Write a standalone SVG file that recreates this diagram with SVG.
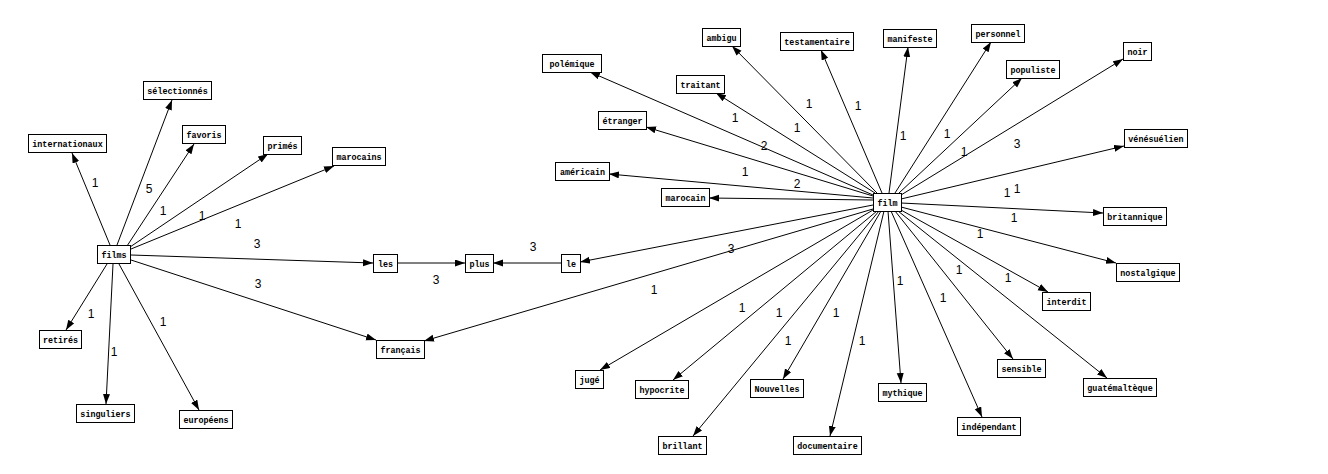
<svg xmlns="http://www.w3.org/2000/svg" width="1328" height="474" viewBox="0 0 1328 474">
<style>
.n rect{fill:#fff;stroke:#000;stroke-width:1;shape-rendering:crispEdges}
.n text{font-family:"Liberation Mono",monospace;font-weight:bold;font-size:8.4px;fill:#000;text-anchor:middle}
.e line{stroke:#000;stroke-width:1;marker-end:url(#ah)}
.lbl text{font-family:"Liberation Sans",Arial,sans-serif;font-size:12px;fill:#000;text-anchor:middle}
</style>
<defs>
<marker id="ah" markerUnits="userSpaceOnUse" markerWidth="11" markerHeight="8" refX="10" refY="3.5" orient="auto">
<path d="M0,0 L10,3.5 L0,7 z" fill="#000"/>
</marker>
</defs>
<rect width="1328" height="474" fill="#fff"/>
<g id="connectors" class="e">
<line x1="110" y1="245" x2="72" y2="153"/>
<line x1="117" y1="245" x2="172" y2="100"/>
<line x1="127" y1="246" x2="194" y2="144"/>
<line x1="130" y1="247" x2="268" y2="154"/>
<line x1="131" y1="249" x2="334" y2="166"/>
<line x1="131" y1="255" x2="373" y2="263"/>
<line x1="131" y1="260" x2="376" y2="340"/>
<line x1="107" y1="264" x2="66" y2="330"/>
<line x1="113" y1="264" x2="106" y2="404"/>
<line x1="119" y1="264" x2="199" y2="410"/>
<line x1="397" y1="263" x2="465" y2="263"/>
<line x1="561" y1="263" x2="493" y2="263"/>
<line x1="873" y1="205" x2="580" y2="262"/>
<line x1="873" y1="209" x2="424" y2="341"/>
<line x1="877" y1="193" x2="732" y2="46"/>
<line x1="882" y1="193" x2="821" y2="50"/>
<line x1="889" y1="193" x2="908" y2="47"/>
<line x1="895" y1="193" x2="991" y2="42"/>
<line x1="899" y1="193" x2="1022" y2="78"/>
<line x1="901" y1="195" x2="1123" y2="59"/>
<line x1="901" y1="199" x2="1124" y2="146"/>
<line x1="901" y1="203" x2="1103" y2="213"/>
<line x1="901" y1="207" x2="1116" y2="263"/>
<line x1="901" y1="210" x2="1048" y2="292"/>
<line x1="898" y1="211" x2="1107" y2="378"/>
<line x1="895" y1="211" x2="1013" y2="359"/>
<line x1="891" y1="211" x2="982" y2="417"/>
<line x1="888" y1="211" x2="901" y2="383"/>
<line x1="884" y1="211" x2="830" y2="436"/>
<line x1="881" y1="211" x2="783" y2="379"/>
<line x1="879" y1="211" x2="693" y2="436"/>
<line x1="877" y1="211" x2="673" y2="380"/>
<line x1="873" y1="210" x2="600" y2="370"/>
<line x1="873" y1="200" x2="709" y2="198"/>
<line x1="873" y1="198" x2="609" y2="174"/>
<line x1="873" y1="196" x2="646" y2="127"/>
<line x1="873" y1="195" x2="590" y2="72"/>
<line x1="875" y1="193" x2="716" y2="93"/>
</g>
<g id="edge-labels" class="lbl">
<text x="95" y="187">1</text>
<text x="149" y="193">5</text>
<text x="163" y="215">1</text>
<text x="202" y="220">1</text>
<text x="238" y="228">1</text>
<text x="257" y="248">3</text>
<text x="258" y="288">3</text>
<text x="436" y="284">3</text>
<text x="533" y="251">3</text>
<text x="91" y="318">1</text>
<text x="114" y="356">1</text>
<text x="163" y="326">1</text>
<text x="809" y="108">1</text>
<text x="858" y="110">1</text>
<text x="735" y="122">1</text>
<text x="797" y="132">1</text>
<text x="764" y="150">2</text>
<text x="745" y="176">1</text>
<text x="797" y="188">2</text>
<text x="903" y="140">1</text>
<text x="947" y="138">1</text>
<text x="964" y="156">1</text>
<text x="1017" y="148">3</text>
<text x="1007" y="197">1</text>
<text x="1017" y="193">1</text>
<text x="1014" y="222">1</text>
<text x="980" y="238">1</text>
<text x="959" y="274">1</text>
<text x="1008" y="282">1</text>
<text x="900" y="285">1</text>
<text x="943" y="302">1</text>
<text x="731" y="253">3</text>
<text x="654" y="294">1</text>
<text x="742" y="312">1</text>
<text x="779" y="317">1</text>
<text x="836" y="317">1</text>
<text x="788" y="345">1</text>
<text x="862" y="345">1</text>
</g>
<g id="films" class="n"><rect x="97.5" y="245.5" width="33" height="18"/><text x="114" y="257.5">films</text></g>
<g id="internationaux" class="n"><rect x="28.5" y="134.5" width="78" height="18"/><text x="67.5" y="146.5">internationaux</text></g>
<g id="selectionnes" class="n"><rect x="143.5" y="81.5" width="68" height="18"/><text x="177.5" y="93.5">sélectionnés</text></g>
<g id="favoris" class="n"><rect x="182.5" y="125.5" width="43" height="18"/><text x="204" y="137.5">favoris</text></g>
<g id="primes" class="n"><rect x="263.5" y="136.5" width="38" height="18"/><text x="282.5" y="148.5">primés</text></g>
<g id="marocains" class="n"><rect x="332.5" y="147.5" width="53" height="18"/><text x="359" y="159.5">marocains</text></g>
<g id="les" class="n"><rect x="373.5" y="254.5" width="24" height="18"/><text x="385.5" y="266.5">les</text></g>
<g id="plus" class="n"><rect x="465.5" y="254.5" width="28" height="18"/><text x="479.5" y="266.5">plus</text></g>
<g id="le" class="n"><rect x="561.5" y="254.5" width="19" height="18"/><text x="571" y="266.5">le</text></g>
<g id="francais" class="n"><rect x="376.5" y="340.5" width="48" height="18"/><text x="400.5" y="352.5">français</text></g>
<g id="retires" class="n"><rect x="39.5" y="330.5" width="42" height="18"/><text x="60.5" y="342.5">retirés</text></g>
<g id="singuliers" class="n"><rect x="76.5" y="404.5" width="58" height="18"/><text x="105.5" y="416.5">singuliers</text></g>
<g id="europeens" class="n"><rect x="179.5" y="410.5" width="53" height="18"/><text x="206" y="422.5">européens</text></g>
<g id="film" class="n"><rect x="873.5" y="193.5" width="28" height="18"/><text x="887.5" y="205.5">film</text></g>
<g id="ambigu" class="n"><rect x="702.5" y="28.5" width="38" height="18"/><text x="721.5" y="40.5">ambigu</text></g>
<g id="testamentaire" class="n"><rect x="780.5" y="32.5" width="73" height="18"/><text x="817" y="44.5">testamentaire</text></g>
<g id="manifeste" class="n"><rect x="883.5" y="29.5" width="53" height="18"/><text x="910" y="41.5">manifeste</text></g>
<g id="personnel" class="n"><rect x="971.5" y="24.5" width="53" height="18"/><text x="998" y="36.5">personnel</text></g>
<g id="populiste" class="n"><rect x="1006.5" y="60.5" width="53" height="18"/><text x="1033" y="72.5">populiste</text></g>
<g id="noir" class="n"><rect x="1123.5" y="42.5" width="28" height="18"/><text x="1137.5" y="54.5">noir</text></g>
<g id="venezuelien" class="n"><rect x="1124.5" y="129.5" width="63" height="18"/><text x="1156" y="141.5">vénésuélien</text></g>
<g id="britannique" class="n"><rect x="1103.5" y="207.5" width="63" height="18"/><text x="1135" y="219.5">britannique</text></g>
<g id="nostalgique" class="n"><rect x="1116.5" y="263.5" width="63" height="18"/><text x="1148" y="275.5">nostalgique</text></g>
<g id="interdit" class="n"><rect x="1042.5" y="292.5" width="48" height="18"/><text x="1066.5" y="304.5">interdit</text></g>
<g id="guatemalteque" class="n"><rect x="1083.5" y="378.5" width="73" height="18"/><text x="1120" y="390.5">guatémaltèque</text></g>
<g id="sensible" class="n"><rect x="997.5" y="359.5" width="48" height="18"/><text x="1021.5" y="371.5">sensible</text></g>
<g id="independant" class="n"><rect x="957.5" y="417.5" width="63" height="18"/><text x="989" y="429.5">indépendant</text></g>
<g id="mythique" class="n"><rect x="878.5" y="383.5" width="48" height="18"/><text x="902.5" y="395.5">mythique</text></g>
<g id="documentaire" class="n"><rect x="793.5" y="436.5" width="68" height="18"/><text x="827.5" y="448.5">documentaire</text></g>
<g id="nouvelles" class="n"><rect x="750.5" y="379.5" width="53" height="18"/><text x="777" y="391.5">Nouvelles</text></g>
<g id="brillant" class="n"><rect x="658.5" y="436.5" width="48" height="18"/><text x="682.5" y="448.5">brillant</text></g>
<g id="hypocrite" class="n"><rect x="635.5" y="380.5" width="53" height="18"/><text x="662" y="392.5">hypocrite</text></g>
<g id="juge" class="n"><rect x="575.5" y="370.5" width="28" height="18"/><text x="589.5" y="382.5">jugé</text></g>
<g id="marocain" class="n"><rect x="661.5" y="188.5" width="48" height="18"/><text x="685.5" y="200.5">marocain</text></g>
<g id="americain" class="n"><rect x="555.5" y="162.5" width="54" height="18"/><text x="582.5" y="174.5">américain</text></g>
<g id="etranger" class="n"><rect x="598.5" y="111.5" width="48" height="18"/><text x="622.5" y="123.5">étranger</text></g>
<g id="traitant" class="n"><rect x="676.5" y="75.5" width="48" height="18"/><text x="700.5" y="87.5">traitant</text></g>
<g id="polemique" class="n"><rect x="542.5" y="54.5" width="59" height="18"/><text x="572" y="66.5">polémique</text></g>
</svg>
